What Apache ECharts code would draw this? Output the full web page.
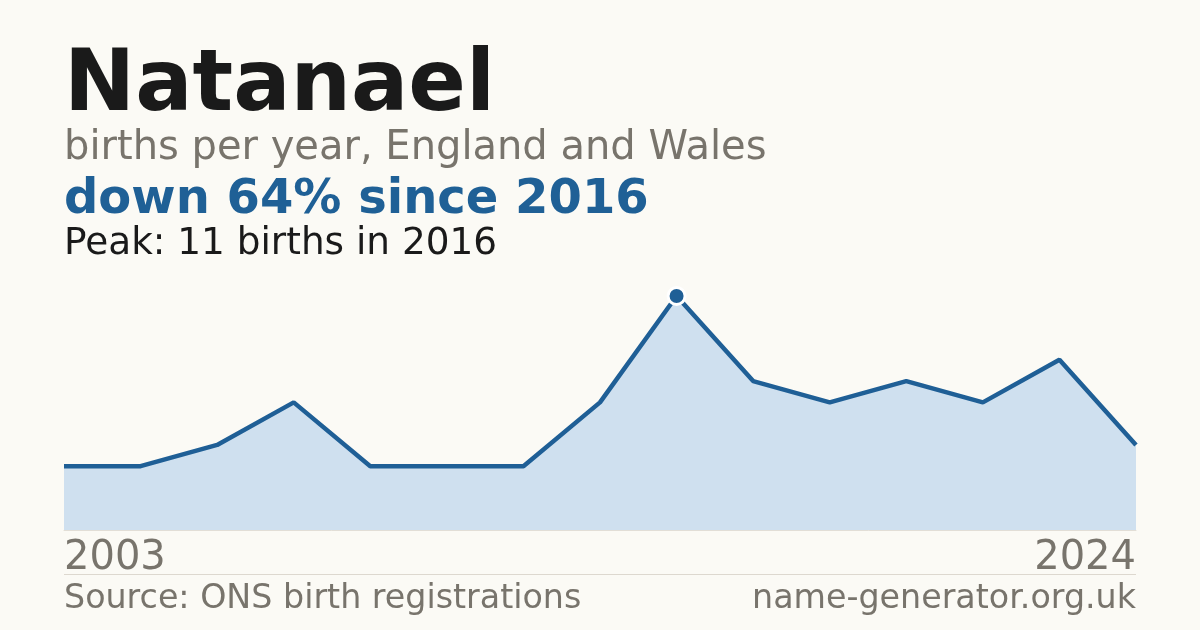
<!DOCTYPE html>
<html>
<head>
<meta charset="utf-8">
<script src="https://cdn.jsdelivr.net/npm/echarts@6/dist/echarts.min.js"></script>
<style>
html,body{margin:0;padding:0;background:#fbfaf5;}
#c{width:1200px;height:630px;}
</style>
</head>
<body>
<div id="c"></div>
<script>
const years = ['2003','2004','2005','2006','2008','2010','2013','2015','2016','2017','2018','2019','2020','2022','2024'];
const births = [3,3,4,6,3,3,3,6,11,7,6,7,6,8,4];
const titleText = 'Natanael';
const subtitleText = 'births per year, England and Wales';
const headlineText = 'down 64% since 2016';
const peakText = 'Peak: 11 births in 2016';
const sourceText = 'Source: ONS birth registrations';
const siteText = 'name-generator.org.uk';

const peakIdx = births.indexOf(Math.max(...births));
const lineColor = '#1f5f96';
const grey = '#78746c';
const font = 'DejaVu Sans';

const chart = echarts.init(document.getElementById('c'), null, {renderer:'canvas'});
chart.setOption({
  backgroundColor: '#fbfaf5',
  animation: false,
  grid: {left:64, right:64, top:296, bottom:100, containLabel:false},
  xAxis: {
    type:'category', data: years, boundaryGap:false,
    axisLine:{show:true, lineStyle:{color:'#e2ded6', width:1}},
    axisTick:{show:false}, splitLine:{show:false},
    axisLabel:{
      show:true, fontFamily:font, fontSize:40, color:grey, margin:9,
      interval:(i)=> i===0 || i===years.length-1,
      alignMinLabel:'left', alignMaxLabel:'right',
      showMinLabel:true, showMaxLabel:true
    }
  },
  yAxis: {type:'value', min:0, max:11, show:false, splitLine:{show:false}},
  series: [{
    type:'line',
    data: births.map((v,i)=> i===peakIdx ? {value:v, symbol:'circle', symbolSize:17, itemStyle:{color:lineColor, borderColor:'#ffffff', borderWidth:3}} : {value:v, symbol:'none'}),
    showSymbol:true,
    lineStyle:{color:lineColor, width:4.5},
    itemStyle:{color:lineColor},
    areaStyle:{color:'#cfe0ef', opacity:1},
    z:3
  }],
  graphic: [
    {type:'text', x:64, y:88, style:{text:titleText, fontFamily:font, fontWeight:'bold', fontSize:85, fill:'#1a1a1a', verticalAlign:'middle'}},
    {type:'text', x:64, y:149, style:{text:subtitleText, fontFamily:font, fontSize:40, fill:grey, verticalAlign:'middle'}},
    {type:'text', x:64, y:201, style:{text:headlineText, fontFamily:font, fontWeight:'bold', fontSize:48, fill:'#1f6096', verticalAlign:'middle'}},
    {type:'text', x:64, y:244, style:{text:peakText, fontFamily:font, fontSize:37.4, fill:'#1a1a1a', verticalAlign:'middle'}},
    {type:'line', shape:{x1:64, y1:574.5, x2:1136, y2:574.5}, style:{stroke:'#ddd8cf', lineWidth:1}},
    {type:'text', x:64, y:599, style:{text:sourceText, fontFamily:font, fontSize:33.3, fill:grey, verticalAlign:'middle'}},
    {type:'text', x:1136, y:599, style:{text:siteText, fontFamily:font, fontSize:33.3, fill:grey, verticalAlign:'middle', align:'right'}}
  ]
});
</script>
</body>
</html>
